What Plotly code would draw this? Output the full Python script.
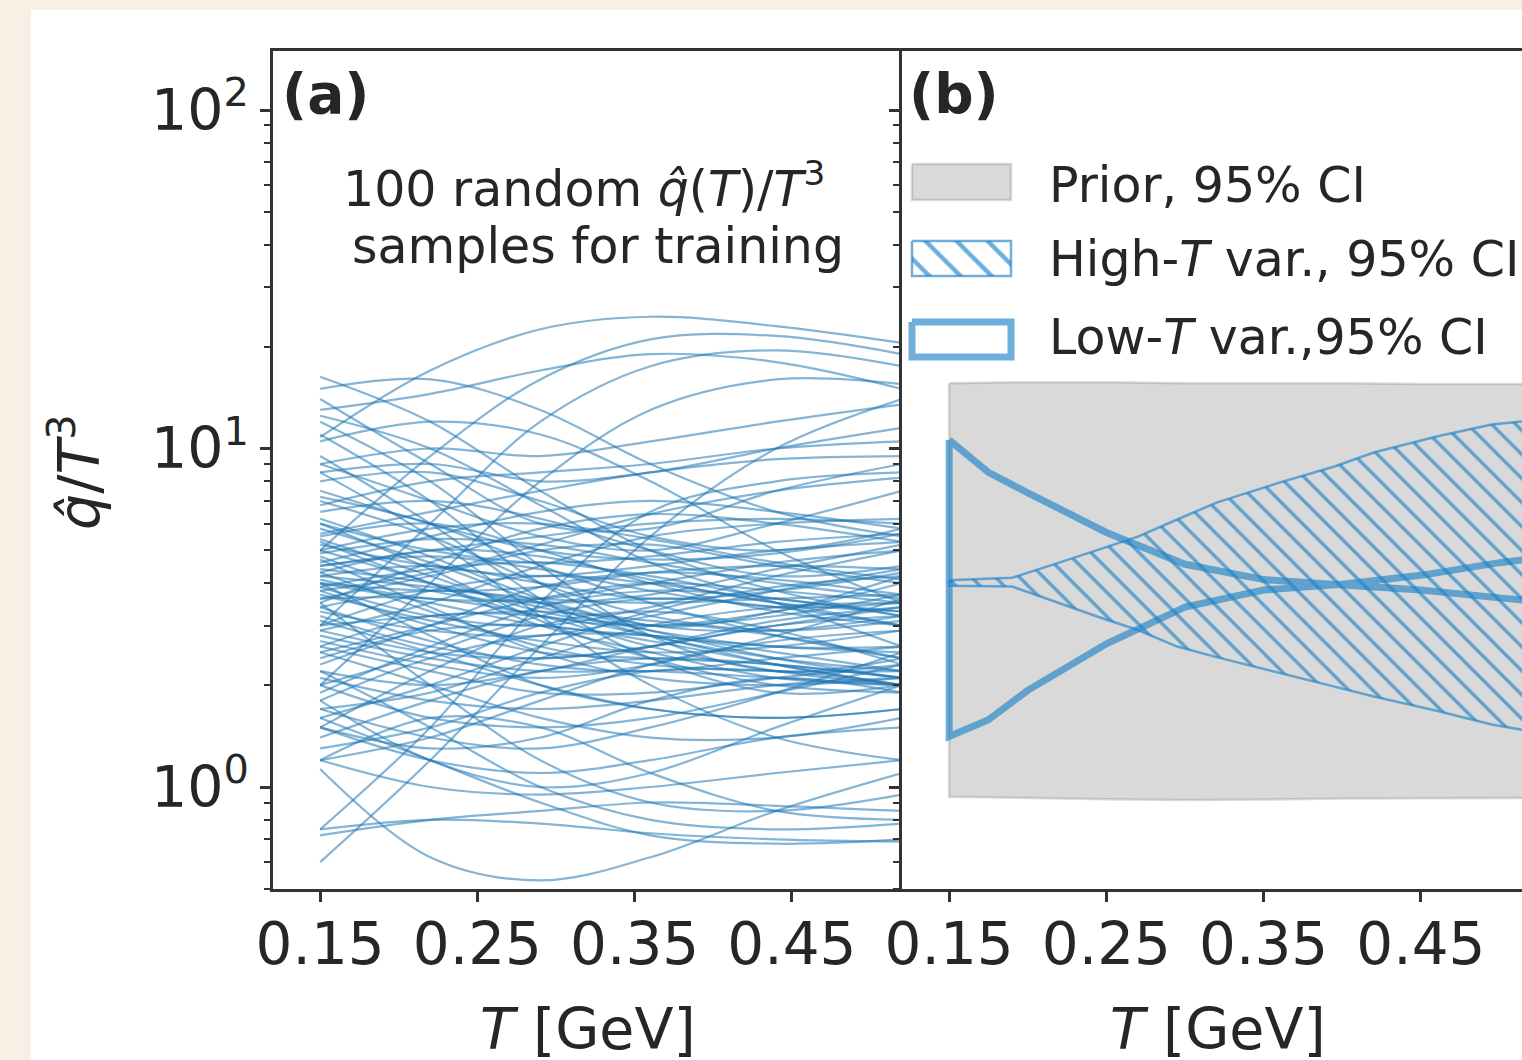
import plotly.graph_objects as go

W, H = 1522, 1060


def fx(p):
    return p / W


def fy(p):
    return 1 - p / H


# ---------------- data ----------------
T_grid = [0.15, 0.22, 0.29, 0.36, 0.44, 0.52]

samples_high = [
    [16.3, 12.0, 7.5, 5.0, 3.8, 3.2],
    [15.0, 16.0, 13.0, 9.0, 6.5, 5.5],
    [14.0, 9.0, 6.0, 5.8, 7.5, 9.0],
    [13.0, 14.5, 17.0, 19.0, 18.0, 15.0],
    [12.0, 8.0, 4.5, 2.8, 2.2, 2.4],
    [11.0, 7.0, 4.0, 3.0, 3.3, 4.2],
    [10.5, 12.0, 11.0, 8.0, 5.0, 3.5],
    [9.5, 6.0, 3.6, 2.4, 1.9, 2.0],
    [9.0, 10.0, 9.5, 10.5, 12.0, 13.5],
    [8.5, 5.5, 3.2, 2.0, 1.4, 1.2],
    [8.0, 8.5, 7.0, 5.5, 5.0, 5.8],
    [12.5, 10.0, 6.8, 4.6, 3.5, 2.6],
    [10.8, 17.0, 22.5, 24.5, 23.0, 20.5],
    [5.0, 9.5, 16.0, 21.0, 21.5, 19.0],
    [3.0, 6.0, 12.0, 17.5, 19.5, 17.5],
    [2.0, 4.0, 8.0, 13.0, 16.0, 15.5],
    [0.6, 1.2, 2.6, 5.5, 10.0, 14.0],
    [0.75, 1.5, 3.5, 6.5, 8.0, 8.5],
]

samples_low = [
    [1.13, 0.62, 0.53, 0.62, 0.85, 1.1],
    [0.72, 0.8, 0.85, 0.9, 0.88, 0.85],
    [0.75, 0.8, 0.78, 0.73, 0.70, 0.69],
    [1.2, 1.0, 0.95, 1.0, 1.1, 1.2],
    [1.6, 1.2, 0.9, 0.72, 0.68, 0.7],
    [2.2, 1.5, 1.0, 0.8, 0.75, 0.78],
    [1.2, 1.6, 1.5, 1.1, 0.85, 0.8],
    [3.5, 2.0, 1.2, 0.9, 0.85, 0.95],
    [1.5, 1.3, 1.4, 1.8, 2.1, 1.9],
    [1.8, 1.2, 1.0, 1.1, 1.5, 2.0],
    [1.5, 1.2, 1.1, 1.2, 1.4, 1.5],
    [1.7, 1.4, 1.3, 1.5, 1.9, 2.5],
    [1.2, 1.4, 1.8, 2.3, 2.7, 2.9],
    [2.5, 2.0, 1.6, 1.4, 1.4, 1.6],
    [1.3, 1.5, 1.9, 2.2, 2.2, 2.0],
]

samples_mid = [
    [4.0, 3.5, 3.0, 2.8, 2.6, 2.5],
    [4.2, 4.5, 4.0, 3.6, 3.8, 4.3],
    [3.8, 3.0, 2.5, 2.4, 2.3, 2.1],
    [4.5, 5.0, 5.5, 6.0, 6.2, 6.0],
    [5.0, 4.0, 3.0, 2.5, 2.1, 2.0],
    [3.6, 4.2, 5.0, 5.2, 4.5, 4.0],
    [4.3, 3.3, 2.6, 2.3, 2.2, 2.2],
    [5.5, 6.0, 5.0, 4.0, 3.3, 3.0],
    [3.2, 2.6, 2.4, 2.6, 3.0, 3.4],
    [4.8, 3.8, 3.5, 3.7, 4.4, 5.2],
    [2.8, 2.4, 2.2, 2.2, 2.1, 2.0],
    [6.0, 5.0, 4.6, 4.8, 5.3, 5.6],
    [2.5, 3.0, 3.6, 4.0, 3.8, 3.5],
    [4.0, 2.8, 2.0, 1.7, 1.6, 1.7],
    [6.5, 7.0, 6.2, 5.0, 4.2, 4.5],
    [2.0, 2.5, 3.2, 3.6, 3.4, 3.0],
    [3.0, 3.2, 3.3, 3.1, 2.8, 2.4],
    [5.2, 4.5, 4.2, 4.5, 5.0, 5.3],
    [1.6, 2.0, 2.6, 3.3, 3.9, 4.2],
    [7.0, 5.5, 4.0, 3.2, 2.9, 3.1],
    [3.4, 3.8, 3.5, 2.9, 2.4, 2.1],
    [2.6, 2.2, 1.9, 1.9, 2.1, 2.3],
    [4.6, 5.5, 6.5, 7.0, 6.5, 5.8],
    [2.2, 2.0, 2.2, 2.6, 3.1, 3.4],
    [1.9, 2.6, 3.4, 3.8, 3.6, 3.2],
    [7.5, 6.0, 5.0, 4.7, 4.9, 5.6],
    [3.9, 4.4, 4.6, 4.2, 3.6, 3.3],
    [1.7, 1.9, 2.4, 3.0, 3.4, 3.5],
    [5.8, 4.6, 3.5, 2.8, 2.4, 2.2],
    [2.4, 2.9, 3.0, 2.7, 2.3, 2.0],
    [4.1, 3.6, 3.6, 4.0, 4.6, 5.0],
    [3.3, 2.9, 2.8, 3.2, 3.8, 4.4],
    [6.8, 8.0, 8.5, 9.0, 10.0, 10.5],
    [1.4, 1.8, 2.2, 2.4, 2.3, 2.1],
    [4.4, 4.0, 3.4, 2.9, 2.6, 2.6],
    [2.9, 3.5, 4.5, 5.5, 6.0, 6.2],
    [3.7, 3.1, 2.7, 2.5, 2.6, 2.9],
    [5.4, 4.2, 3.3, 3.0, 3.2, 3.7],
    [2.1, 1.8, 1.7, 1.8, 2.0, 2.1],
    [4.9, 5.4, 5.2, 4.6, 4.0, 3.6],
    [1.5, 2.2, 3.0, 3.3, 2.9, 2.3],
    [3.5, 4.6, 5.8, 6.4, 6.0, 5.3],
    [6.2, 4.8, 3.6, 3.0, 2.9, 3.2],
    [2.7, 2.3, 2.1, 2.3, 2.8, 3.6],
    [4.0, 3.8, 3.9, 4.3, 4.5, 4.4],
    [3.1, 2.5, 2.0, 1.7, 1.6, 1.7],
    [8.5, 9.0, 8.0, 8.5, 10.0, 11.5],
    [4.7, 3.4, 2.5, 2.1, 2.0, 2.1],
    [2.3, 3.0, 3.9, 4.3, 4.1, 3.7],
    [5.6, 6.5, 7.5, 8.5, 9.3, 9.5],
    [3.9, 3.2, 3.0, 3.4, 4.2, 5.0],
    [4.2, 3.9, 3.6, 3.5, 3.6, 3.7],
    [7.2, 6.0, 4.5, 3.5, 2.8, 2.4],
    [1.8, 2.4, 2.8, 2.8, 2.5, 2.2],
    [3.6, 3.6, 3.2, 2.6, 2.2, 2.0],
    [5.0, 5.8, 6.0, 5.4, 4.6, 4.1],
    [2.0, 1.6, 1.5, 1.6, 1.9, 2.3],
    [3.0, 3.8, 4.2, 4.0, 3.5, 3.0],
    [6.0, 4.4, 3.1, 2.4, 2.0, 1.9],
    [4.5, 4.8, 4.4, 3.8, 3.4, 3.5],
    [2.6, 3.2, 3.2, 2.8, 2.3, 2.0],
    [3.4, 2.7, 2.3, 2.2, 2.4, 2.6],
    [9.0, 7.0, 5.5, 5.0, 6.0, 7.5],
    [4.3, 5.0, 4.8, 4.1, 3.5, 3.3],
    [2.9, 2.5, 2.4, 2.6, 3.0, 3.2],
    [5.3, 4.0, 3.2, 3.0, 3.3, 4.0],
    [3.8, 4.3, 5.2, 6.4, 7.5, 8.2],
]

# panel (b) bands
T_prior = [0.15, 0.20, 0.25, 0.30, 0.35, 0.40, 0.45, 0.52]
prior_upper = [15.6, 15.7, 15.7, 15.6, 15.6, 15.6, 15.5, 15.5]
prior_lower = [0.936, 0.93, 0.92, 0.915, 0.918, 0.925, 0.928, 0.928]

T_high = [0.15, 0.19, 0.22, 0.245, 0.27, 0.295, 0.32, 0.36, 0.395, 0.42, 0.46, 0.495, 0.52]
high_upper = [4.08, 4.15, 4.6, 5.03, 5.49, 6.17, 6.92, 7.93, 8.85, 9.73, 10.85, 11.78, 12.1]
high_lower = [3.93, 3.91, 3.5, 3.18, 2.91, 2.6, 2.42, 2.17, 1.98, 1.85, 1.68, 1.53, 1.46]

T_low = [0.15, 0.175, 0.20, 0.25, 0.30, 0.35, 0.40, 0.45, 0.50, 0.52]
low_upper = [10.6, 8.5, 7.4, 5.65, 4.55, 4.1, 3.95, 3.82, 3.62, 3.55]
low_lower = [1.41, 1.58, 1.93, 2.65, 3.4, 3.82, 3.97, 4.22, 4.6, 4.72]

x_ticks = [0.15, 0.25, 0.35, 0.45]
x_tick_labels = ["0.15", "0.25", "0.35", "0.45"]
y_ticks = [1, 10, 100]
y_tick_labels = ["10<sup>0</sup>", "10<sup>1</sup>", "10<sup>2</sup>"]
y_minor_ticks = [0.5, 0.6, 0.7, 0.8, 0.9, 2, 3, 4, 5, 6, 7, 8, 9,
                 20, 30, 40, 50, 60, 70, 80, 90]

legend_labels = ["Prior, 95% CI", "High-<i>T</i> var., 95% CI", "Low-<i>T</i> var.,95% CI"]

# ---------------- style ----------------
FONT = "DejaVu Sans"
TXT = "#262626"
SPINE = "#333333"
LINE_A = "rgba(31,119,180,0.55)"
BLUE_B = "rgba(30,130,200,0.65)"
PRIOR_FILL = "rgba(128,128,128,0.3)"
HATCH = dict(shape="\\", size=17, solidity=0.2, fgcolor="rgb(30,130,200)",
             fgopacity=0.65, bgcolor="rgba(0,0,0,0)", fillmode="replace")

fig = go.Figure()

for group in (samples_high, samples_mid, samples_low):
    for vals in group:
        fig.add_trace(go.Scatter(
            x=T_grid, y=vals, mode="lines", xaxis="x", yaxis="y",
            line=dict(color=LINE_A, width=2.2, shape="spline", smoothing=1.0),
            hoverinfo="skip", showlegend=False))

# prior band
fig.add_trace(go.Scatter(
    x=T_prior + T_prior[::-1] + [T_prior[0]],
    y=prior_upper + prior_lower[::-1] + [prior_upper[0]],
    mode="lines", fill="toself", fillcolor=PRIOR_FILL,
    line=dict(color=PRIOR_FILL, width=2.5), xaxis="x2", yaxis="y2",
    hoverinfo="skip", showlegend=False))

# high-T band (hatched)
fig.add_trace(go.Scatter(
    x=T_high + T_high[::-1] + [T_high[0]],
    y=high_upper + high_lower[::-1] + [high_upper[0]],
    mode="lines", fill="toself", fillcolor="rgba(0,0,0,0)",
    fillpattern=HATCH,
    line=dict(color=BLUE_B, width=2.5), xaxis="x2", yaxis="y2",
    hoverinfo="skip", showlegend=False))

# low-T band (outline)
fig.add_trace(go.Scatter(
    x=T_low + T_low[::-1] + [T_low[0]],
    y=low_upper + low_lower[::-1] + [low_upper[0]],
    mode="lines", line=dict(color=BLUE_B, width=7),
    xaxis="x2", yaxis="y2", hoverinfo="skip", showlegend=False))


# ---- custom legend symbols on pixel overlay axes ----
def rect(x0, y0, x1, y1):
    return [x0, x1, x1, x0, x0], [y0, y0, y1, y1, y0]


rx, ry = rect(912, 164, 1011, 200)
fig.add_trace(go.Scatter(x=rx, y=ry, mode="lines", fill="toself",
                         fillcolor=PRIOR_FILL,
                         line=dict(color=PRIOR_FILL, width=2.5),
                         xaxis="x3", yaxis="y3", hoverinfo="skip", showlegend=False))
rx, ry = rect(912, 241, 1011, 276)
fig.add_trace(go.Scatter(x=rx, y=ry, mode="lines", fill="toself",
                         fillcolor="rgba(0,0,0,0)",
                         fillpattern=dict(HATCH, size=22),
                         line=dict(color=BLUE_B, width=2.5),
                         xaxis="x3", yaxis="y3", hoverinfo="skip", showlegend=False))
rx, ry = rect(912, 322, 1011, 357)
fig.add_trace(go.Scatter(x=rx, y=ry, mode="lines",
                         line=dict(color=BLUE_B, width=7),
                         xaxis="x3", yaxis="y3", hoverinfo="skip", showlegend=False))

# ---------------- layout ----------------
yr = [-0.3013, 2.1743]
common_x = dict(
    showgrid=False, zeroline=False, showline=True, linecolor=SPINE, linewidth=2.5,
    mirror=True, ticks="outside", ticklen=10, tickwidth=2.5, tickcolor=SPINE,
    tickvals=x_ticks, ticktext=x_tick_labels, ticklabelstandoff=-7,
    tickfont=dict(family=FONT, size=58, color=TXT), automargin=False,
)
common_y = dict(
    type="log", range=yr, showgrid=False, zeroline=False, showline=True,
    linecolor=SPINE, linewidth=2.5, ticks="outside", ticklen=10, tickwidth=2.5,
    tickcolor=SPINE, tickvals=y_ticks, ticktext=y_tick_labels,
    tickfont=dict(family=FONT, size=57, color=TXT), automargin=False,
    minor=dict(tickvals=y_minor_ticks, ticks="outside", ticklen=6, tickwidth=2,
               tickcolor=SPINE, showgrid=False),
    domain=[fy(889), fy(51)],
)

fig.update_layout(
    width=W, height=H, template="none",
    margin=dict(l=0, r=0, t=0, b=0, pad=0),
    paper_bgcolor="#f8f0e4", plot_bgcolor="rgba(0,0,0,0)",
    showlegend=False,
    font=dict(family=FONT, color=TXT),
    xaxis=dict(common_x, domain=[fx(273), fx(902)], range=[0.12, 0.52], anchor="y"),
    yaxis=dict(common_y, mirror=False, anchor="x"),
    xaxis2=dict(common_x, domain=[fx(902), 1.0], range=[0.12, 0.12 + 620 / 1572.5],
                anchor="y2"),
    yaxis2=dict(common_y, mirror=False, showticklabels=False, anchor="x2"),
    xaxis3=dict(domain=[0, 1], range=[0, W], visible=False, anchor="y3",
                fixedrange=True),
    yaxis3=dict(domain=[0, 1], range=[H, 0], visible=False, anchor="x3",
                fixedrange=True),
    shapes=[dict(type="rect", xref="paper", yref="paper", x0=fx(31), x1=1,
                 y0=0, y1=fy(10), fillcolor="white", line=dict(width=0),
                 layer="below")],
)

ann = []


def add_text(text, x, y, size, xanchor="center", yanchor="middle", angle=0):
    ann.append(dict(text=text, x=fx(x), y=fy(y), xref="paper", yref="paper",
                    showarrow=False, xanchor=xanchor, yanchor=yanchor,
                    textangle=angle,
                    font=dict(family=FONT, size=size, color=TXT)))


add_text("<b>(a)</b>", 280, 94, 55, xanchor="left")
add_text("<b>(b)</b>", 907, 94, 55, xanchor="left")
add_text("100 random <i>q̂</i>(<i>T</i>)/<i>T</i><sup>3</sup>", 584, 185, 49)
add_text("samples for training", 598, 246, 49)
add_text("<i>T</i> [GeV]", 588, 1029, 57)
add_text("<i>T</i> [GeV]", 1218, 1029, 57)
add_text("<i>q̂</i>/<i>T</i><sup>3</sup>", 75, 472, 57, angle=-90)
for lab, yc in zip(legend_labels, [186, 260, 337]):
    add_text(lab, 1047, yc, 49, xanchor="left")

fig.update_layout(annotations=ann)

fig.write_html("out.html")
